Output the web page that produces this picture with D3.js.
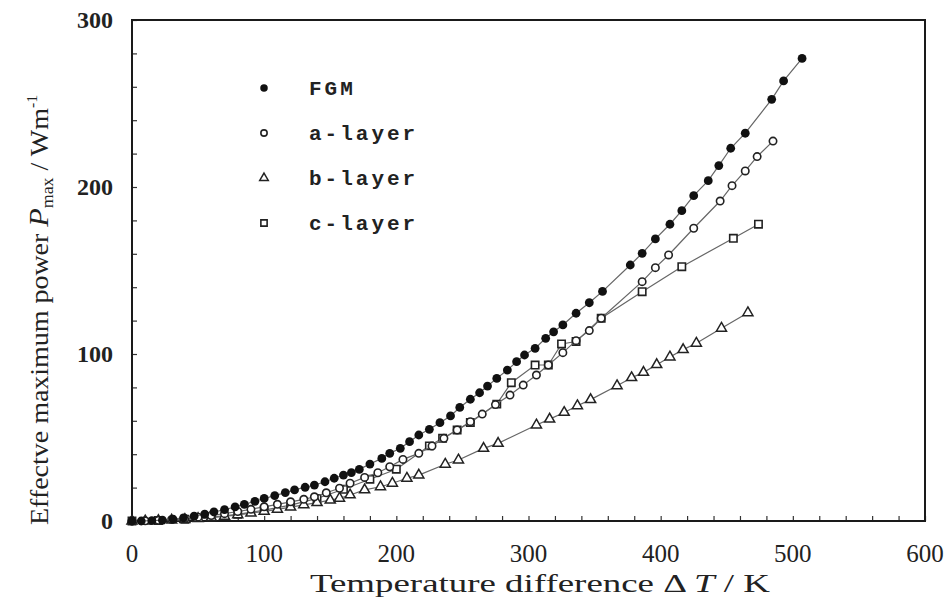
<!DOCTYPE html>
<html>
<head>
<meta charset="utf-8">
<script src="https://cdn.jsdelivr.net/npm/d3@7.9.0/dist/d3.min.js"></script>
<style>
  body { margin: 0; background: #fff; }
  svg { display: block; }
</style>
</head>
<body>
<div id="chart"></div>
<script>
// values: [ΔT (K), Pmax (W/m)]
const fgm = [[0,0],[7,0],[15,0.2],[23,0.5],[31,1.1],[39,1.9],[47,2.9],[55,4.1],[62,5.4],[70,6.8],[78,8.4],[85,10],[93,11.8],[100,13.5],[108,15.2],[116,17],[123,18.6],[131,20.2],[138,21.5],[146,23.5],[153,25.6],[160,27.5],[166,29],[172,30.9],[180,34.1],[189,37.5],[195,40.5],[203,43.5],[210,47.5],[217,51.5],[225,54.9],[233,58.9],[241,62.9],[248,68],[256,72.9],[263,76.8],[269,80.8],[276,85.4],[284,90.4],[291,95.4],[297,99.4],[305,103.4],[313,109.4],[319,113.3],[326,117.4],[336,124.4],[346,130.7],[356,137.5],[377,153.3],[386,160.3],[396,168.9],[407,177.7],[416,185.8],[425,194.8],[436,203.8],[444,212.8],[453,223.2],[464,232.2],[484,252.5],[493,263.5],[507,277]];
const aLayer = [[0,0],[10,0.1],[20,0.4],[30,0.9],[40,1.5],[50,2.3],[60,3.3],[70,4.4],[80,5.7],[90,7],[100,8.5],[110,10],[120,11.5],[130,13],[138,14.5],[147,16.9],[157,19.6],[165,22.6],[176,26.1],[186,28.9],[195,32.5],[205,36.9],[217,40.5],[227,44.9],[236,49.5],[246,54.5],[256,59.5],[265,64],[275,69.7],[286,75.4],[296,81.4],[306,87.4],[315,93.4],[326,100.8],[336,108],[346,114],[355,121.4],[386,143.3],[396,151.7],[406,159.3],[425,175.3],[445,191.6],[454,200.8],[464,209.6],[473,218.2],[485,227.5]];
const bLayer = [[0,0],[10,0],[20,0.2],[30,0.5],[40,0.9],[50,1.4],[60,2],[70,2.8],[80,3.7],[90,4.7],[100,5.8],[110,7],[120,8.3],[130,9.7],[140,11],[150,12.5],[157,13.6],[165,15.6],[176,18.6],[188,20.5],[197,22.6],[208,25.6],[217,27.5],[237,34],[247,36.5],[266,43.5],[277,46.5],[306,57.5],[316,61],[327,65],[337,69],[347,72.7],[367,81],[378,85.8],[387,89],[397,93.6],[407,98.2],[417,102.6],[427,106.4],[446,115.4],[466,124.7]];
const cLayer = [[0,0],[20,0.3],[40,1],[60,2.3],[80,4],[100,6.5],[120,9.5],[140,13.5],[160,19],[180,25],[200,31],[225,45],[235,49.5],[246,54.5],[256,59],[276,70],[287,82.8],[305,93.4],[315,93.4],[325,106],[336,107.5],[355,121.4],[386,137.3],[416,152.3],[455,169.3],[474,177.7]];

const xTicks = [0, 100, 200, 300, 400, 500, 600];
const yTicks = [0, 100, 200, 300];
const legendNames = ['FGM', 'a-layer', 'b-layer', 'c-layer'];

const width = 952, height = 598;
const margin = { top: 20, right: 27, bottom: 77, left: 132 };

const svg = d3.select('#chart').append('svg')
  .attr('width', width).attr('height', height);

const x = d3.scaleLinear().domain([0, 600]).range([margin.left, width - margin.right]);
const y = d3.scaleLinear().domain([0, 300]).range([height - margin.bottom, margin.top]);

const ink = '#1a1a1a';

// minor + major ticks, pointing inward
const xAxis = svg.append('g')
  .attr('transform', `translate(0,${y(0)})`)
  .call(d3.axisBottom(x).tickValues(d3.range(0, 601, 20)).tickSize(-5).tickFormat(''));
const yAxis = svg.append('g')
  .attr('transform', `translate(${x(0)},0)`)
  .call(d3.axisLeft(y).tickValues(d3.range(0, 301, 20)).tickSize(-5).tickFormat(''));
[xAxis, yAxis].forEach(g => {
  g.select('.domain').remove();
  g.selectAll('line').attr('stroke', '#333').attr('stroke-width', 1.2);
});

// frame
svg.append('rect')
  .attr('x', x(0)).attr('y', y(300))
  .attr('width', x(600) - x(0)).attr('height', y(0) - y(300))
  .attr('fill', 'none').attr('stroke', ink).attr('stroke-width', 2);

// tick labels
svg.append('g').selectAll('text').data(xTicks).join('text')
  .attr('x', d => x(d)).attr('y', y(0) + 41)
  .attr('text-anchor', 'middle')
  .attr('font-family', 'Liberation Serif, serif').attr('font-size', 25)
  .attr('fill', '#222')
  .text(d => d);
svg.append('g').selectAll('text').data(yTicks).join('text')
  .attr('x', x(0) - 19).attr('y', d => y(d) + 8)
  .attr('text-anchor', 'end')
  .attr('font-family', 'Liberation Serif, serif').attr('font-weight', 'bold').attr('font-size', 24)
  .attr('fill', '#222')
  .text(d => d);

// axis titles
const xt = svg.append('text')
  .attr('x', 310).attr('y', 592)
  .attr('textLength', 460).attr('lengthAdjust', 'spacingAndGlyphs')
  .attr('font-family', 'Liberation Serif, serif').attr('font-size', 26)
  .attr('fill', '#222');
xt.append('tspan').text('Temperature difference  \u0394  ');
xt.append('tspan').attr('font-style', 'italic').text('T');
xt.append('tspan').text(' / K');

const yt = svg.append('text')
  .attr('transform', `translate(48,525) rotate(-90)`)
  .attr('textLength', 430).attr('lengthAdjust', 'spacingAndGlyphs')
  .attr('font-family', 'Liberation Serif, serif').attr('font-size', 25)
  .attr('fill', '#222');
yt.append('tspan').text('Effectve maximum power  ');
yt.append('tspan').attr('font-style', 'italic').attr('font-size', 27).text('P');
yt.append('tspan').attr('font-size', 16).attr('dy', 5).text('max');
yt.append('tspan').attr('dy', -5).text(' / Wm');
yt.append('tspan').attr('font-size', 14).attr('dy', -11).text('-1');

// series
const line = d3.line().x(d => x(d[0])).y(d => y(d[1]));
const series = [
  { name: 'FGM', data: fgm, shape: 'dot' },
  { name: 'a-layer', data: aLayer, shape: 'circle' },
  { name: 'b-layer', data: bLayer, shape: 'triangle' },
  { name: 'c-layer', data: cLayer, shape: 'square' },
];

function drawMarker(sel, shape, k = 1) {
  if (shape === 'dot') {
    sel.append('circle').attr('r', 4.4 * k).attr('fill', '#111');
  } else if (shape === 'circle') {
    sel.append('circle').attr('r', 3.7 * k).attr('fill', '#fff')
      .attr('stroke', '#222').attr('stroke-width', 1.6);
  } else if (shape === 'triangle') {
    sel.append('path').attr('d', d3.symbol(d3.symbolTriangle, 44 * k * k)())
      .attr('fill', '#fff').attr('stroke', '#222').attr('stroke-width', 1.5);
  } else {
    sel.append('path').attr('d', d3.symbol(d3.symbolSquare, 54 * k * k)())
      .attr('fill', '#fff').attr('stroke', '#222').attr('stroke-width', 1.6);
  }
}

const plot = svg.append('g');
// draw back to front so the filled FGM dots stay on top
[...series].reverse().forEach(s => {
  plot.append('path').datum(s.data)
    .attr('d', line)
    .attr('fill', 'none').attr('stroke', '#666').attr('stroke-width', 1.2);
  plot.append('g').selectAll('g').data(s.data).join('g')
    .attr('transform', d => `translate(${x(d[0])},${y(d[1])})`)
    .each(function () { drawMarker(d3.select(this), s.shape); });
});

// legend
const legend = svg.append('g');
legendNames.forEach((name, i) => {
  const ly = 88 + i * 45;
  const m = legend.append('g').attr('transform', `translate(264,${ly})`);
  drawMarker(m, series[i].shape, 0.85);
  legend.append('text')
    .attr('x', 309).attr('y', ly + 7)
    .attr('font-family', 'Liberation Mono, monospace').attr('font-weight', 'bold')
    .attr('font-size', 21).attr('letter-spacing', 3).attr('fill', '#222')
    .text(name);
});
</script>
</body>
</html>
